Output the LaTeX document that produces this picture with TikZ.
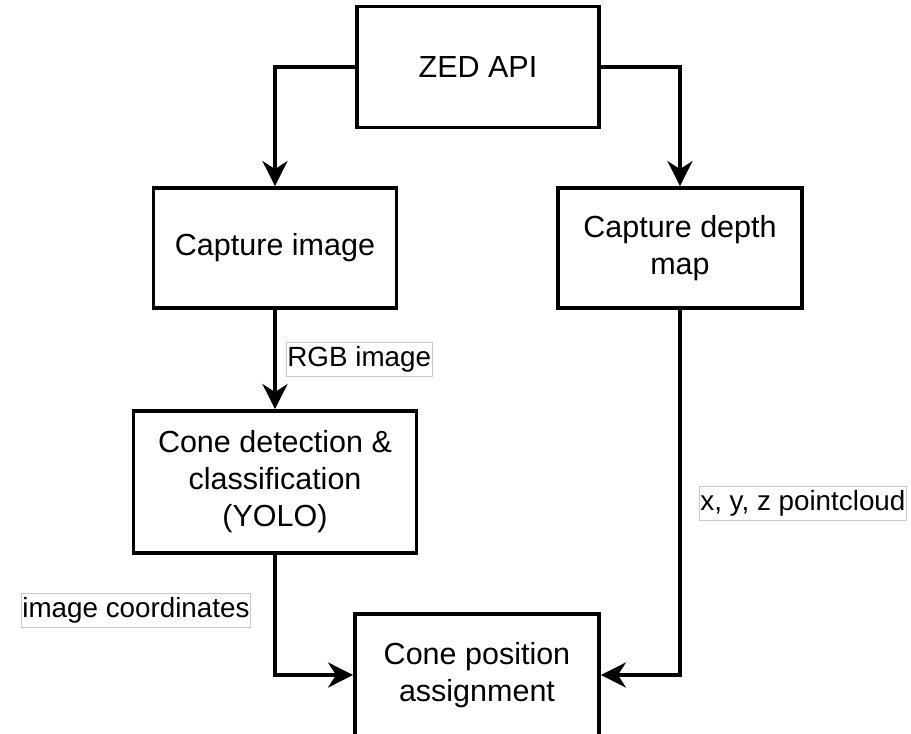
\documentclass[tikz,border=0pt]{standalone}
\usepackage{fontspec}
\setmainfont{Liberation Sans}
\usetikzlibrary{arrows.meta}
\definecolor{lblborder}{RGB}{200,200,200}
\begin{document}
\begin{tikzpicture}[x=1pt,y=-1pt,
  box/.style={draw=black, line width=3.8pt, fill=white, align=center,
    font=\fontsize{30.5}{37}\selectfont, inner sep=0pt},
  lbl/.style={draw=lblborder, line width=0.8pt, fill=white,
    font=\fontsize{27.8}{32}\selectfont, inner xsep=1pt, inner ysep=0pt,
    minimum height=34pt},
  conn/.style={line width=3.8pt, -{Stealth[length=25pt,width=25pt,inset=8pt]}}]
\useasboundingbox (0,0) rectangle (911,734);
\node[box, minimum width=242pt, minimum height=121pt] (zed) at (478,67) {ZED API};
\node[box, minimum width=243pt, minimum height=120pt] (cap) at (275,248) {Capture image};
\node[box, minimum width=244pt, minimum height=120pt] (depth) at (680,248) {Capture depth\\map};
\node[box, minimum width=283pt, minimum height=142pt] (det) at (275,482) {Cone detection \&\\classification\\(YOLO)};
\node[box, minimum width=244pt, minimum height=122pt] (pos) at (477,675) {Cone position\\assignment};
\draw[conn] (zed.west) -| (cap.north);
\draw[conn] (zed.east) -| (depth.north);
\draw[conn] (cap.south) -- (det.north);
\draw[conn] (det.south) |- (pos.west);
\draw[conn] (depth.south) |- (pos.east);
\node[lbl, anchor=west] (rgb) at (286,359) {RGB image};
\node[lbl, anchor=west] (pc) at (699,503) {x, y, z pointcloud};
\node[lbl, anchor=west] (ic) at (21,610) {image coordinates};
\end{tikzpicture}
\end{document}
